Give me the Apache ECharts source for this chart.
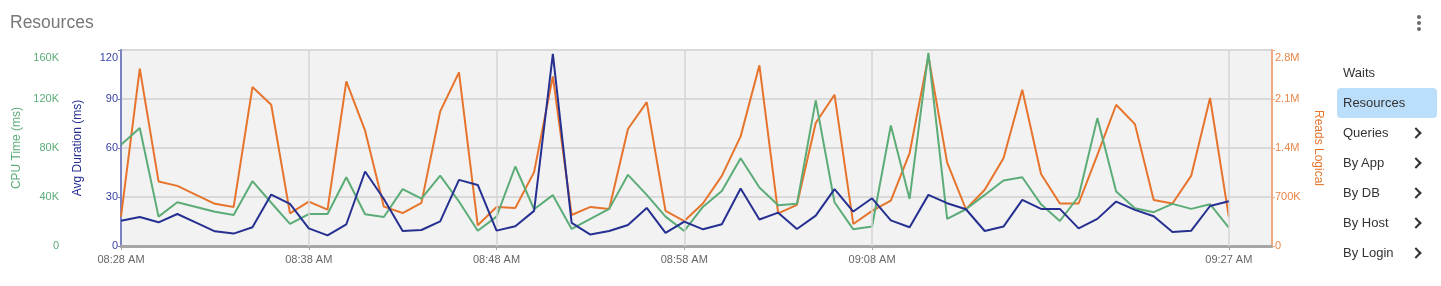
<!DOCTYPE html>
<html>
<head>
<meta charset="utf-8">
<script src="https://cdn.jsdelivr.net/npm/echarts@6/dist/echarts.min.js"></script>
<style>
  html, body { margin: 0; padding: 0; background: #fff; }
  #wrap { position: relative; width: 1441px; height: 286px; overflow: hidden; font-family: "Liberation Sans", Arial, sans-serif; }
  #chart { position: absolute; left: 0; top: 0; width: 1441px; height: 286px; }
  #title { position: absolute; left: 10px; top: 12px; font-size: 17.5px; color: #777; }
  .dot { position: absolute; left: 1417px; width: 4px; height: 4px; border-radius: 2px; background: #6b6b6b; }
  .item { position: absolute; left: 1337px; width: 100px; height: 30px; line-height: 30px; font-size: 13px; color: #333; padding-left: 6px; box-sizing: border-box; }
  .item.sel { background: #bbdefb; border-radius: 4px; }
  .chev { position: absolute; left: 1412px; width: 6px; height: 6px; border-right: 2px solid #333; border-top: 2px solid #333; transform: rotate(45deg); }
</style>
</head>
<body>
<div id="wrap">
  <div id="chart"></div>
  <div id="title">Resources</div>
  <div class="dot" style="top:15px"></div>
  <div class="dot" style="top:21px"></div>
  <div class="dot" style="top:27px"></div>
  <div id="menu"></div>
</div>
<script>
// ---- data ----
const tickLabels = ['08:28 AM', '08:38 AM', '08:48 AM', '08:58 AM', '09:08 AM', '09:27 AM'];
const tickIndex = [0, 10, 20, 30, 40, 59];   // minutes after 08:28 AM

const cpuTime = [
  82700, 96300, 24000, 35700, 31900, 28000, 25300, 52900, 35300, 18000,
  26100, 26100, 56100, 25900, 23700, 46400, 38700, 57500, 36300, 12500,
  24000, 64900, 30000, 41500, 13900, 22100, 30300, 58100, 41700, 24000,
  12300, 32100, 44900, 71700, 47700, 33200, 34400, 118900, 35700, 13600,
  15900, 98400, 38400, 157600, 22100, 30000, 41700, 53500, 56100, 34000,
  20400, 40400, 104400, 44400, 30800, 27600, 34400, 30300, 34100, 14900
];
const avgDuration = [
  15.5, 17.8, 14.5, 19.6, 14.3, 9.0, 7.6, 11.5, 31.5, 25.8,
  10.8, 6.5, 13.3, 45.6, 28.8, 9.2, 9.8, 15.1, 40.5, 37.4,
  9.4, 12.1, 21.5, 117.6, 14.1, 7.0, 9.2, 12.9, 23.3, 8.0,
  14.9, 10.2, 13.3, 35.2, 16.2, 20.4, 10.4, 18.6, 34.8, 21.1,
  29.2, 15.7, 11.5, 31.3, 26.2, 22.5, 9.2, 11.9, 28.2, 22.7,
  22.7, 10.8, 16.6, 27.2, 22.1, 18.2, 8.6, 9.4, 24.5, 27.4
];
const readsLogical = [
  420000, 2534000, 922000, 859000, 730000, 602000, 558000, 2270000, 2018000, 467000,
  635000, 520000, 2352000, 1647000, 562000, 471000, 616000, 1923000, 2480000, 296000,
  558000, 544000, 1055000, 2424000, 443000, 558000, 530000, 1671000, 2056000, 502000,
  357000, 611000, 1001000, 1566000, 2581000, 467000, 588000, 1757000, 2161000, 315000,
  502000, 649000, 1328000, 2711000, 1192000, 525000, 803000, 1255000, 2233000, 1029000,
  607000, 607000, 1302000, 2018000, 1741000, 658000, 607000, 1006000, 2114000, 420000
];
const menuItems = ['Waits', 'Resources', 'Queries', 'By App', 'By DB', 'By Host', 'By Login'];
const menuSelected = 'Resources';
const menuChevron = [false, false, true, true, true, true, true];

// ---- menu ----
const menu = document.getElementById('menu');
menuItems.forEach((t, i) => {
  const d = document.createElement('div');
  d.className = 'item' + (t === menuSelected ? ' sel' : '');
  d.style.top = (58 + i * 30) + 'px';
  d.textContent = t;
  menu.appendChild(d);
  if (menuChevron[i]) {
    const c = document.createElement('div');
    c.className = 'chev';
    c.style.top = (58 + i * 30 + 11) + 'px';
    menu.appendChild(c);
  }
});

// ---- chart ----
const GREEN = '#5cac78', BLUE = '#263091', ORANGE = '#e6742c';
const pair = arr => arr.map((v, i) => [i, v]);
const topShift = (txt, isTop) => isTop ? '{t|' + txt + '}' : txt;

const chart = echarts.init(document.getElementById('chart'), null, { renderer: 'canvas' });
const baseFont = { fontFamily: 'Liberation Sans, Arial, sans-serif', fontSize: 11 };

chart.setOption({
  animation: false,
  textStyle: { fontFamily: 'Liberation Sans, Arial, sans-serif' },
  grid: { left: 121, right: 169, top: 50, bottom: 40, show: true, backgroundColor: '#f2f2f2', borderWidth: 0 },
  xAxis: {
    type: 'value', min: 0, max: 61.3,
    axisLine: { show: true, lineStyle: { color: '#a6a6a6', width: 3 } },
    axisTick: { show: true, customValues: tickIndex, length: 4, lineStyle: { color: '#a6a6a6', width: 1 } },
    axisLabel: {
      customValues: tickIndex, ...baseFont, color: '#666', margin: 8,
      formatter: v => tickLabels[tickIndex.indexOf(Math.round(v))] || ''
    },
    splitLine: { show: false }
  },
  yAxis: [
    {
      type: 'value', position: 'left', offset: 59, min: 0, max: 160000, interval: 40000,
      name: 'CPU Time (ms)', nameLocation: 'middle', nameGap: 38,
      nameTextStyle: { color: GREEN, fontSize: 12 },
      axisLine: { show: true, lineStyle: { color: '#a9d8b8', width: 2 } },
      axisTick: { show: true, length: 3, lineStyle: { color: '#a9d8b8' } },
      axisLabel: { ...baseFont, color: GREEN, margin: 3,
        formatter: v => topShift(v === 0 ? '0' : (v / 1000) + 'K', v === 160000),
        rich: { t: { color: GREEN, fontSize: 11, padding: [16, 0, 0, 0] } } },
      splitLine: { show: false }
    },
    {
      type: 'value', position: 'left', min: 0, max: 120, interval: 30,
      name: 'Avg Duration (ms)', nameLocation: 'middle', nameGap: 37,
      nameTextStyle: { color: BLUE, fontSize: 12 },
      axisLine: { show: true, lineStyle: { color: '#7a82c2', width: 2 } },
      axisTick: { show: true, length: 3, lineStyle: { color: '#7a82c2' } },
      axisLabel: { ...baseFont, color: '#3944a3', margin: 3,
        formatter: v => topShift(String(v), v === 120),
        rich: { t: { color: '#3944a3', fontSize: 11, padding: [16, 0, 0, 0] } } },
      splitLine: { show: true, lineStyle: { color: '#d9d9d9', width: 2 } }
    },
    {
      type: 'value', position: 'right', min: 0, max: 2800000, interval: 700000,
      name: 'Reads Logical', nameLocation: 'middle', nameGap: 40, nameRotate: -90,
      nameTextStyle: { color: ORANGE, fontSize: 12 },
      axisLine: { show: true, lineStyle: { color: '#eeab82', width: 2 } },
      axisTick: { show: true, length: 3, lineStyle: { color: '#eeab82' } },
      axisLabel: { ...baseFont, color: '#e8874a', margin: 3,
        formatter: v => {
          let s = v === 0 ? '0' : (v >= 1000000 ? (v / 1000000) + 'M' : (v / 1000) + 'K');
          return topShift(s, v === 2800000);
        },
        rich: { t: { color: '#e8874a', fontSize: 11, padding: [16, 0, 0, 0] } } },
      splitLine: { show: false }
    }
  ],
  series: [
    {
      name: 'gridX', type: 'line', yAxisIndex: 1, data: [], z: 1, silent: true,
      markLine: {
        silent: true, symbol: 'none', label: { show: false },
        lineStyle: { color: '#d4d4d4', type: 'solid', width: 1.5 },
        data: tickIndex.slice(1).map(v => ({ xAxis: v }))
      }
    },
    { name: 'Reads Logical', type: 'line', yAxisIndex: 2, data: pair(readsLogical), showSymbol: false, z: 3,
      lineStyle: { color: ORANGE, width: 2 }, itemStyle: { color: ORANGE } },
    { name: 'CPU Time', type: 'line', yAxisIndex: 0, data: pair(cpuTime), showSymbol: false, z: 4,
      lineStyle: { color: GREEN, width: 2 }, itemStyle: { color: GREEN } },
    { name: 'Avg Duration', type: 'line', yAxisIndex: 1, data: pair(avgDuration), showSymbol: false, z: 5,
      lineStyle: { color: BLUE, width: 2 }, itemStyle: { color: BLUE } }
  ]
});
</script>
</body>
</html>
